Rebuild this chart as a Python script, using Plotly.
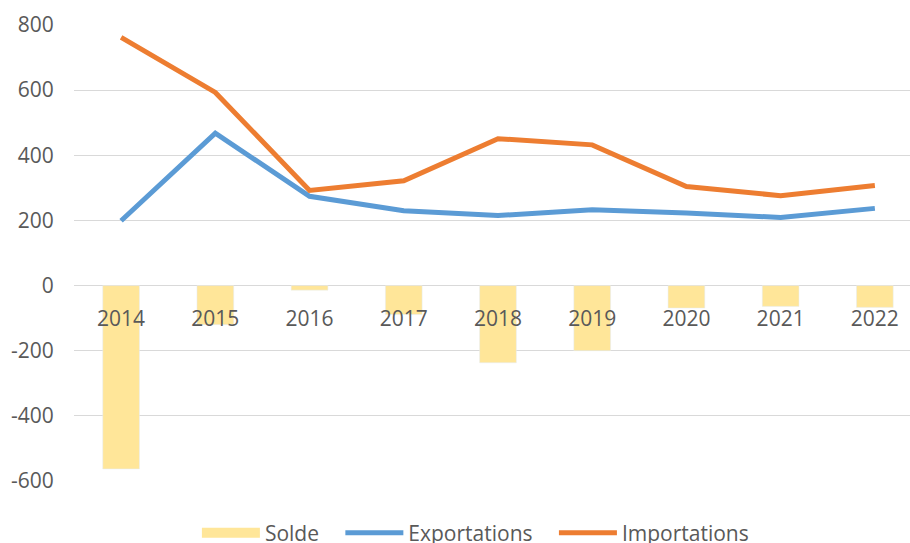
import plotly.graph_objects as go

years = ["2014", "2015", "2016", "2017", "2018", "2019", "2020", "2021", "2022"]
solde = [-563, -120, -14, -89, -237, -200, -69, -64, -67]
exportations = [199, 468, 274, 230, 215, 233, 223, 209, 237]
importations = [762, 593, 292, 322, 451, 432, 304, 276, 307]
y_ticks = [-600, -400, -200, 0, 200, 400, 600, 800]
y_labels = ["-600", "-400", "-200", "0", "200", "400", "600", "800"]

YELLOW = "#FFE699"
BLUE = "#5B9BD5"
ORANGE = "#ED7D31"
TXT = "#595959"
FONT = "Open Sans"
PAD = "\u00a0\u00a0\u00a0"

fig = go.Figure()
fig.add_trace(go.Bar(x=years, y=solde, marker_color=YELLOW, name="Solde",
                     showlegend=False))
fig.add_trace(go.Scatter(x=[None], y=[None], mode="lines", name="Solde" + PAD,
                         line=dict(color=YELLOW, width=13)))
fig.add_trace(go.Scatter(x=years, y=exportations, mode="lines", name="Exportations" + PAD,
                         line=dict(color=BLUE, width=5)))
fig.add_trace(go.Scatter(x=years, y=importations, mode="lines", name="Importations",
                         line=dict(color=ORANGE, width=5)))

fig.update_layout(
    width=910, height=543,
    margin=dict(l=74, r=0, t=25, b=62, autoexpand=False),
    paper_bgcolor="white", plot_bgcolor="white",
    font=dict(family=FONT, size=21, color=TXT),
    bargap=0.61,
    showlegend=True,
    legend=dict(orientation="h", x=0.147, xanchor="left", y=-0.114, yanchor="middle",
                font=dict(family=FONT, size=21, color=TXT), itemwidth=58,
                bgcolor="rgba(0,0,0,0)", traceorder="normal"),
    xaxis=dict(type="category", range=[-0.5, 8.373], showgrid=False, showline=False,
               zeroline=False, anchor="free", position=600/1400,
               ticks="outside", ticklen=0, ticklabelstandoff=14,
               tickfont=dict(family=FONT, size=21, color=TXT)),
    yaxis=dict(range=[-600, 800], tickvals=y_ticks, ticktext=y_labels,
               showgrid=True, gridcolor="#D9D9D9",
               gridwidth=1.3, zeroline=False, showline=False,
               ticks="outside", ticklen=0, ticklabelstandoff=15,
               tickfont=dict(family=FONT, size=21, color=TXT)),
)

fig.write_html("out.html")
